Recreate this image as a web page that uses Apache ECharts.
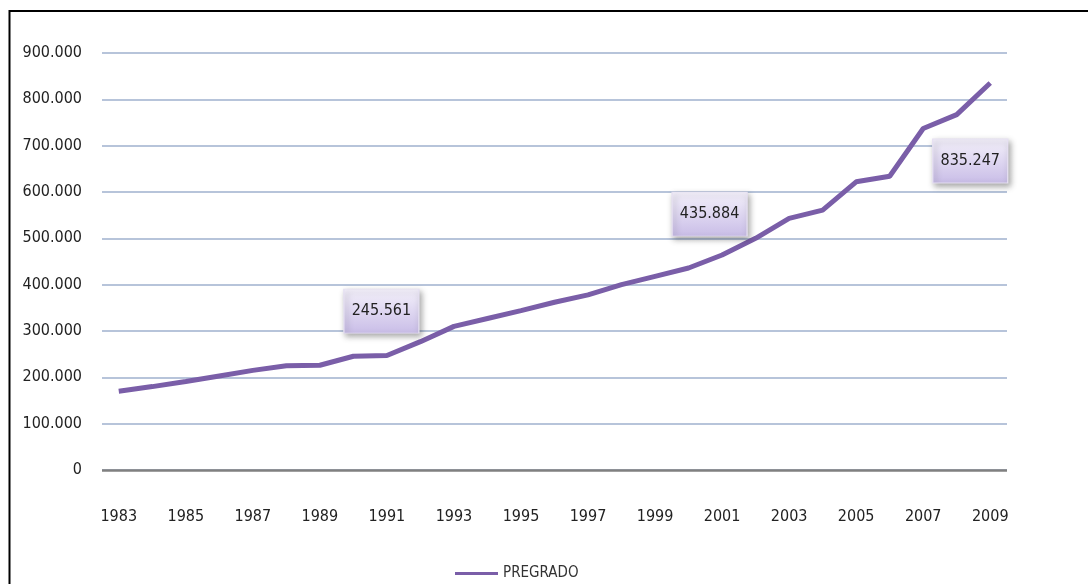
<!DOCTYPE html>
<html>
<head>
<meta charset="utf-8">
<script src="https://cdn.jsdelivr.net/npm/echarts@6/dist/echarts.min.js"></script>
<style>
html,body{margin:0;padding:0;background:#fff;}
#chart{width:1088px;height:584px;}
</style>
</head>
<body>
<div id="chart"></div>
<script>
const years = ['1983','1984','1985','1986','1987','1988','1989','1990','1991','1992','1993','1994','1995','1996','1997','1998','1999','2000','2001','2002','2003','2004','2005','2006','2007','2008','2009'];
const pregrado = [170000,180000,191000,203000,215000,225000,226000,245561,247000,277000,310000,327000,344000,362000,378000,400000,418000,435884,464000,500000,543000,561000,622000,634000,737000,767000,835247];
const seriesName = 'PREGRADO';
const labelledYears = ['1990','2000','2009'];

const FONT = '"DejaVu Sans Condensed", "Liberation Sans Narrow", sans-serif';
function fmt(v){ return String(v).replace(/\B(?=(\d{3})+(?!\d))/g,'.'); }

const boxOffsets = {'1990':[28,-45],'2000':[21,-54],'2009':[-20,78]};

const chart = echarts.init(document.getElementById('chart'));
const boxGradient = new echarts.graphic.LinearGradient(0,0,0,1,[
  {offset:0,color:'#f4f1fb'},{offset:1,color:'#c9bde7'}
]);

chart.setOption({
  animation:false,
  backgroundColor:'#fff',
  textStyle:{fontFamily:FONT},
  graphic:[{
    type:'rect', shape:{x:9.5,y:11,width:1200,height:700},
    style:{fill:null,stroke:'#000',lineWidth:2}, silent:true, z:100
  }],
  grid:{left:102,right:81,top:53,bottom:114,containLabel:false},
  legend:{
    data:[{name:seriesName,icon:'rect'}],
    left:450, top:561, itemWidth:43, itemHeight:3, itemGap:4,
    textStyle:{fontFamily:FONT,fontSize:15,color:'#333'}
  },
  xAxis:{
    type:'category', data:years, boundaryGap:true,
    axisLine:{show:false}, axisTick:{show:false},
    axisLabel:{interval:1,margin:39,fontFamily:FONT,fontSize:16,color:'#222'}
  },
  yAxis:{
    type:'value', min:0, max:900000, interval:100000,
    axisLine:{show:false}, axisTick:{show:false},
    axisLabel:{margin:20,fontFamily:FONT,fontSize:16,color:'#222',formatter:v=>fmt(v)},
    splitLine:{lineStyle:{color:'#b7c4da',width:2}}
  },
  series:[{
    name:seriesName, type:'line', data:pregrado,
    symbol:'none', lineStyle:{color:'#7a5ea8',width:5}, itemStyle:{color:'#7a5ea8'},
    markLine:{
      silent:true, symbol:'none', label:{show:false},
      lineStyle:{color:'#808080',width:2.5,type:'solid'},
      data:[{yAxis:0}]
    },
    markPoint:{
      silent:true,
      data:labelledYears.map(y=>{
        const i = years.indexOf(y);
        return {
          coord:[i,pregrado[i]], value:pregrado[i],
          symbol:'rect', symbolSize:[75,44], symbolOffset:boxOffsets[y],
          itemStyle:{color:boxGradient,borderColor:'#e6e0f2',borderWidth:1,
            shadowBlur:6,shadowColor:'rgba(0,0,0,0.35)',shadowOffsetX:2,shadowOffsetY:3},
          label:{show:true,position:'inside',formatter:fmt(pregrado[i]),
            fontFamily:FONT,fontSize:16,color:'#222'}
        };
      })
    }
  }]
});
</script>
</body>
</html>
